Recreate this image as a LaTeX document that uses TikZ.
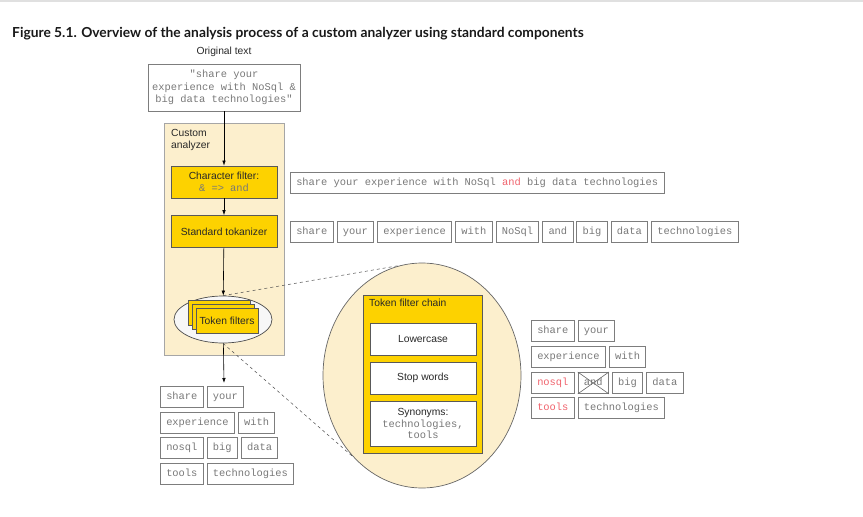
\documentclass[tikz,border=0pt]{standalone}
\usepackage{fontspec}
\setmainfont{Liberation Sans}
\setmonofont{Liberation Mono}
\newfontfamily\titlefont{Lato}
\usetikzlibrary{positioning,shapes.geometric,arrows.meta}

\definecolor{beige}{RGB}{252,239,205}
\definecolor{gold}{RGB}{253,210,0}
\definecolor{edgegray}{RGB}{125,125,125}
\definecolor{monogray}{RGB}{120,120,120}
\definecolor{tokred}{RGB}{240,98,108}
\definecolor{labelgray}{RGB}{40,40,40}

\newcommand{\code}[1]{{\ttfamily\fontsize{10.4}{12.5}\selectfont\color{monogray}#1}}

\begin{document}
\begin{tikzpicture}[x=1pt,y=-1pt,
    font=\fontsize{10.3}{12.5}\selectfont,text=labelgray,
    tok/.style={draw=edgegray,line width=0.9pt,font=\ttfamily\fontsize{10.4}{12.5}\selectfont,
        text=monogray,inner xsep=5.8pt,inner ysep=0pt,text height=7.5pt,text depth=2.2pt,minimum height=21pt},
    goldbox/.style={draw=black!65,fill=gold,line width=0.7pt,minimum width=106pt,
        minimum height=32pt,align=center},
    whitebox/.style={goldbox,fill=white},
    flow/.style={-{Latex[length=5pt,width=3.5pt]},line width=0.6pt},
    zoomline/.style={dashed,line width=0.5pt,black!70}]
    \useasboundingbox (0,0) rectangle (863,517);
    \draw [black!12,line width=1.5pt] (0,1) -- (863,1);

    \node [anchor=base west,inner sep=0pt,font=\titlefont\bfseries\fontsize{13.8}{16}\selectfont,text=black!90]
        (title) at (12,37) {Figure 5.1. Overview of the analysis process of a custom analyzer using standard components};

    % Input:
    \node (origlabel) at (224,52) {Original text};
    \node [draw=edgegray,line width=0.9pt,minimum width=152pt,minimum height=47pt,align=center,
        font=\ttfamily\fontsize{10.4}{12.5}\selectfont,text=monogray]
        (orig) at (224,87.5) {"share your\\experience with NoSql \&\\big data technologies"};

    % Custom analyzer:
    % The beige box holds the three steps, the token filters sit in an ellipse:
    \node [draw=black!35,fill=beige,minimum width=120pt,minimum height=232pt] (analyzer) at (224,239) {};
    \node [anchor=north west,align=left,inner sep=0pt] (analyzerlabel) at (171,129) {Custom\\analyzer};
    \node [goldbox] (charfilter) at (224,182) {Character filter:\\[-1pt]\code{\& => and}};
    \node [goldbox] (tokenizer) at (224,231.5) {Standard tokanizer};
    \node [ellipse,draw=black!70,fill=black!3,line width=0.7pt,minimum width=98pt,minimum height=47pt]
        (filters) at (223,319.5) {};
    \foreach \d in {8,4}
        \node [goldbox,minimum width=62pt,minimum height=25pt] at (227-\d,320.5-\d) {};
    \node [goldbox,minimum width=62pt,minimum height=25pt] (filterfront) at (227,320.5) {Token filters};
    \coordinate (result) at (224,383);

    \draw [flow] (orig) -- (charfilter);
    \draw [flow] (charfilter) -- (tokenizer);
    \draw [flow] (tokenizer) -- (filters);
    \draw [flow] (filters) -- (result);

    % Token filter chain, zoomed in:
    \node [ellipse,draw=black!60,fill=beige,line width=0.7pt,minimum width=198pt,minimum height=225pt]
        (zoom) at (422,375.5) {};
    \draw [zoomline] (filters.north) -- (zoom.101);
    \draw [zoomline] (filters.south) -- (zoom.230);
    \node [goldbox,minimum width=119pt,minimum height=158pt] (chain) at (422.5,374) {};
    \node [anchor=north west,inner sep=0pt] (chainlabel) at (369,299) {Token filter chain};
    \node [whitebox] (lowercase) at (423,339) {Lowercase};
    \node [whitebox] (stopwords) at (423,378) {Stop words};
    \node [whitebox,minimum height=45pt] (synonyms) at (423,423.5) {Synonyms:\\[-1pt]\code{technologies,}\\[-1pt]\code{tools}};

    % Tokens after each step:
    \node [tok,anchor=north west] (filtered) at (290,172)
        {share your experience with NoSql \textcolor{tokred}{and} big data technologies};

    \node [tok,anchor=north west] (a1) at (290,221) {share};
    \node [tok,right=3pt of a1] (a2) {your};
    \node [tok,right=3pt of a2] (a3) {experience};
    \node [tok,right=3pt of a3] (a4) {with};
    \node [tok,right=3pt of a4] (a5) {NoSql};
    \node [tok,right=3pt of a5] (a6) {and};
    \node [tok,right=3pt of a6] (a7) {big};
    \node [tok,right=3pt of a7] (a8) {data};
    \node [tok,right=3pt of a8] (a9) {technologies};

    \node [tok,anchor=north west] (b1) at (531,320) {share};
    \node [tok,right=3pt of b1] (b2) {your};
    \node [tok,anchor=north west] (b3) at (531,346) {experience};
    \node [tok,right=3pt of b3] (b4) {with};
    \node [tok,anchor=north west,text=tokred] (b5) at (531,372) {nosql};
    \node [tok,right=3pt of b5] (b6) {and};
    \node [tok,right=3pt of b6] (b7) {big};
    \node [tok,right=3pt of b7] (b8) {data};
    \node [tok,anchor=north west,text=tokred] (b9) at (531,397) {tools};
    \node [tok,right=3pt of b9] (b10) {technologies};
    \draw [black!60,line width=0.6pt] (b6.north west) -- (b6.south east) (b6.north east) -- (b6.south west);

    \node [tok,anchor=north west] (c1) at (160,386) {share};
    \node [tok,right=3pt of c1] (c2) {your};
    \node [tok,anchor=north west] (c3) at (160,412) {experience};
    \node [tok,right=3pt of c3] (c4) {with};
    \node [tok,anchor=north west] (c5) at (160,437) {nosql};
    \node [tok,right=3pt of c5] (c6) {big};
    \node [tok,right=3pt of c6] (c7) {data};
    \node [tok,anchor=north west] (c8) at (160,463) {tools};
    \node [tok,right=3pt of c8] (c9) {technologies};
\end{tikzpicture}
\end{document}
